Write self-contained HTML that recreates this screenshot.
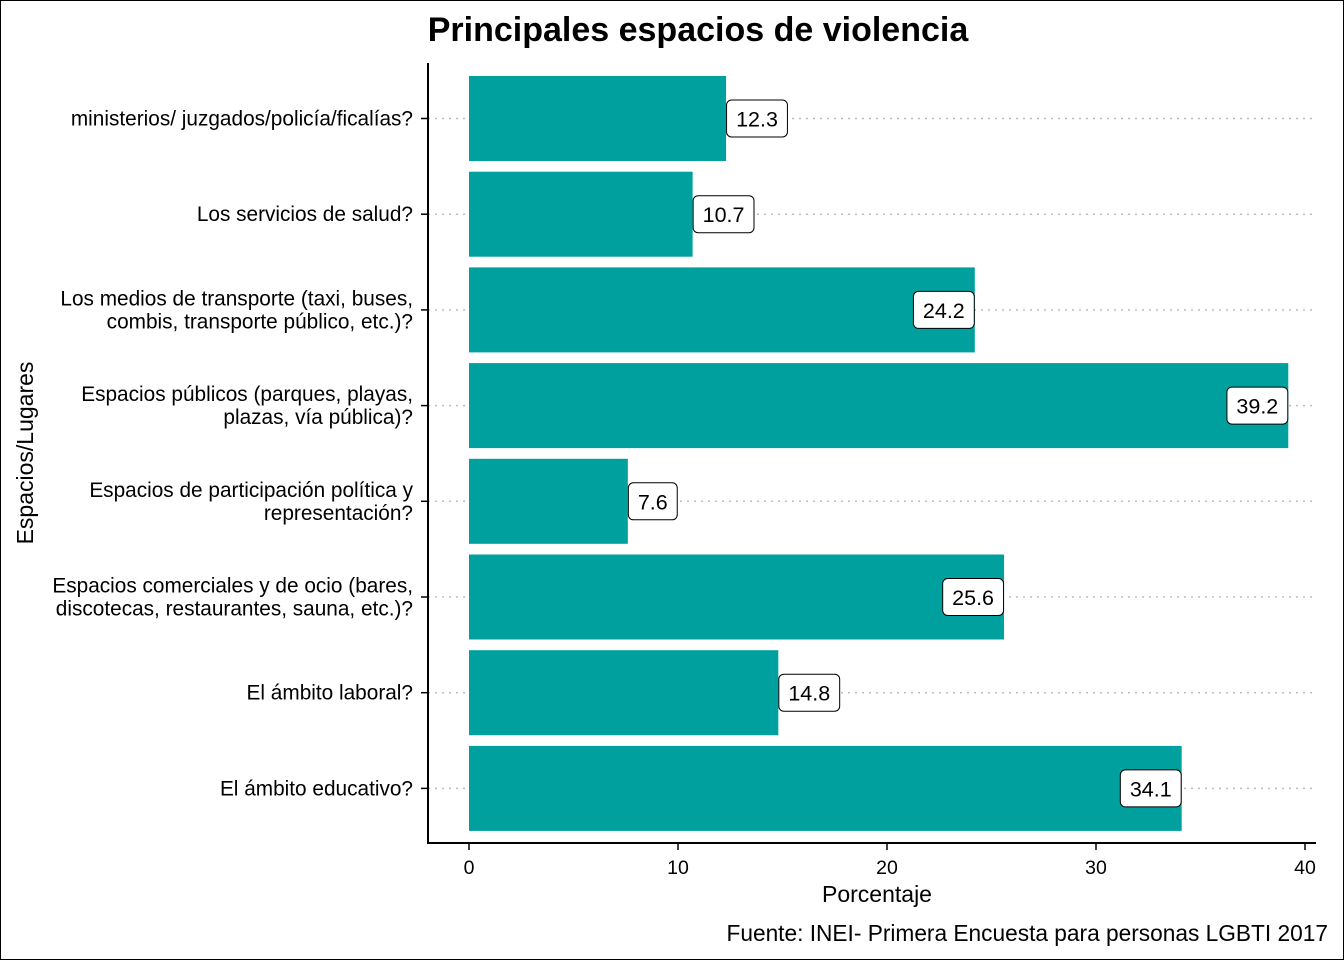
<!DOCTYPE html>
<html><head><meta charset="utf-8"><style>
html,body{margin:0;padding:0;background:#fff;}
svg{display:block;font-family:"Liberation Sans",sans-serif;}
</style></head><body>
<svg id="chart" width="1344" height="960">
<rect x="0.5" y="0.5" width="1343" height="959" fill="#fff" stroke="#000"/>
<text x="698" y="41" text-anchor="middle" font-size="34" font-weight="bold">Principales espacios de violencia</text>
<g id="grid"></g><g id="bars"></g><g id="axes"></g>
<text x="877" y="902" text-anchor="middle" font-size="23">Porcentaje</text>
<text transform="translate(33,453) rotate(-90)" text-anchor="middle" font-size="23">Espacios/Lugares</text>
<text x="1328" y="941" text-anchor="end" font-size="22.7">Fuente: INEI- Primera Encuesta para personas LGBTI 2017</text>
</svg>
<script>
const categories=[["ministerios/ juzgados/policía/ficalías?"],["Los servicios de salud?"],["Los medios de transporte (taxi, buses,","combis, transporte público, etc.)?"],["Espacios públicos (parques, playas,","plazas, vía pública)?"],["Espacios de participación política y","representación?"],["Espacios comerciales y de ocio (bares,","discotecas, restaurantes, sauna, etc.)?"],["El ámbito laboral?"],["El ámbito educativo?"]];
const values=[12.3,10.7,24.2,39.2,7.6,25.6,14.8,34.1];
const xTicks=[0,10,20,30,40];
const NS="http://www.w3.org/2000/svg";
function x(v){return 469+v*(1305-469)/40;}
function y(i){return 118.5+i*95.7;}
function mk(p,tag,a,t){const e=document.createElementNS(NS,tag);for(const k in a)e.setAttribute(k,a[k]);if(t!=null)e.textContent=t;p.appendChild(e);return e;}
const G=document.getElementById('grid'),B=document.getElementById('bars'),A=document.getElementById('axes');
values.forEach((v,i)=>{
 const cy=y(i);
 const g=mk(G,'line',{x1:428,x2:1316,y1:cy,y2:cy,stroke:'#bdbdbd','stroke-width':1.5,'stroke-dasharray':'2,5'});
 
 
 const r=mk(B,'rect',{x:x(0),y:cy-42.5,width:x(v)-x(0),height:85,fill:'#00A09E'});
 
 
 const lbl=v.toFixed(1),right=v>20;
 const lt=mk(B,'text',{x:0,y:cy+8,'text-anchor':'middle','font-size':21.5},lbl);
 
 
 const w=lt.getComputedTextLength()+20;
 const bx=right?x(v)-w:x(v);
 lt.setAttribute('x',bx+w/2);
 const lr=document.createElementNS(NS,'rect');
 const at={x:bx+0.5,y:cy-18.5,width:w-1,height:37,rx:5,fill:'#fff',stroke:'#000','stroke-width':1};
 for(const k in at)lr.setAttribute(k,at[k]);
 B.insertBefore(lr,lt);
 
 
 const tk=mk(A,'line',{x1:421,x2:428,y1:cy,y2:cy,stroke:'#000','stroke-width':1.5});
 
 
 const lines=categories[i];
 lines.forEach((s,j)=>{
  const t=mk(A,'text',{x:413,y:cy+7+(j-(lines.length-1)/2)*23,'text-anchor':'end','font-size':20.8},s);
  
  
 });
});
let l=mk(A,'line',{x1:428,x2:428,y1:63,y2:843,stroke:'#000','stroke-width':2});


l=mk(A,'line',{x1:427,x2:1316,y1:843,y2:843,stroke:'#000','stroke-width':2});


xTicks.forEach(v=>{
 const t=mk(A,'line',{x1:x(v),x2:x(v),y1:843,y2:850,stroke:'#000','stroke-width':1.5});
 
 
 const tl=mk(A,'text',{x:x(v),y:874,'text-anchor':'middle','font-size':19.5},String(v));
 
 
});
</script>
</body></html>
